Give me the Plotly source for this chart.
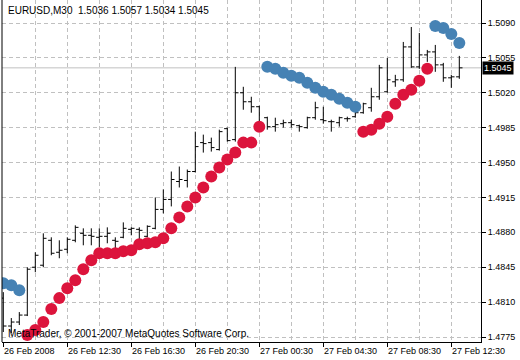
import plotly.graph_objects as go

# ---- data (EURUSD, M30, 26 Feb 2008 08:30 .. 27 Feb 2008 13:00) ----
bar_index = list(range(58))

opens = [1.4814, 1.4786, 1.4790, 1.4797, 1.4845, 1.4847, 1.4872, 1.4860, 1.4863, 1.4872,
         1.4879, 1.4877, 1.4875, 1.4876, 1.4872, 1.4875, 1.4883, 1.4883, 1.4876, 1.4884,
         1.4903, 1.4913, 1.4931, 1.4932, 1.4941, 1.4970, 1.4970, 1.4963, 1.4984, 1.4973,
         1.5020, 1.5011, 1.5006, 1.4995, 1.4986, 1.4989, 1.4990, 1.4987, 1.4985, 1.4995,
         1.4993, 1.4991, 1.4990, 1.4994, 1.4996, 1.5000, 1.5005, 1.5016, 1.5021, 1.5031,
         1.5033, 1.5066, 1.5046, 1.5058, 1.5061, 1.5048, 1.5035, 1.5036]
highs = [1.4820, 1.4794, 1.4800, 1.4845, 1.4860, 1.4879, 1.4875, 1.4872, 1.4875, 1.4887,
         1.4884, 1.4884, 1.4884, 1.4885, 1.4875, 1.4890, 1.4885, 1.4885, 1.4887, 1.4915,
         1.4923, 1.4941, 1.4946, 1.4943, 1.4981, 1.4978, 1.4975, 1.4983, 1.4985, 1.5046,
         1.5026, 1.5016, 1.5007, 1.4996, 1.4995, 1.4993, 1.4993, 1.4988, 1.4996, 1.5011,
         1.5006, 1.4993, 1.4996, 1.4996, 1.5003, 1.5010, 1.5025, 1.5048, 1.5055, 1.5038,
         1.5071, 1.5086, 1.5080, 1.5063, 1.5068, 1.5050, 1.5038, 1.5057]
lows = [1.4780, 1.4779, 1.4787, 1.4796, 1.4840, 1.4845, 1.4857, 1.4854, 1.4859, 1.4870,
        1.4867, 1.4867, 1.4865, 1.4869, 1.4864, 1.4874, 1.4877, 1.4872, 1.4875, 1.4883,
        1.4899, 1.4906, 1.4925, 1.4925, 1.4940, 1.4960, 1.4961, 1.4962, 1.4971, 1.4971,
        1.5003, 1.5000, 1.4983, 1.4983, 1.4981, 1.4985, 1.4985, 1.4981, 1.4984, 1.4993,
        1.4989, 1.4981, 1.4986, 1.4991, 1.4995, 1.4999, 1.5001, 1.5013, 1.5020, 1.5026,
        1.5031, 1.5045, 1.5044, 1.5051, 1.5041, 1.5031, 1.5025, 1.5034]
closes = [1.4786, 1.4790, 1.4797, 1.4843, 1.4857, 1.4874, 1.4859, 1.4862, 1.4873, 1.4885,
          1.4877, 1.4876, 1.4876, 1.4879, 1.4871, 1.4884, 1.4884, 1.4882, 1.4886, 1.4903,
          1.4913, 1.4933, 1.4933, 1.4941, 1.4966, 1.4969, 1.4965, 1.4981, 1.4972, 1.5020,
          1.5011, 1.5006, 1.4987, 1.4986, 1.4988, 1.4990, 1.4988, 1.4986, 1.4995, 1.5005,
          1.4992, 1.4991, 1.4995, 1.4994, 1.5000, 1.5009, 1.5016, 1.5045, 1.5033, 1.5033,
          1.5066, 1.5046, 1.5058, 1.5061, 1.5048, 1.5035, 1.5036, 1.5045]

N = None
support_dots = [N, N, N, 1.4777, 1.4782, 1.4790, 1.4803, 1.4814, 1.4824, 1.4832,
                1.4843, 1.4852, 1.4859, 1.4859, 1.4859, 1.4861, 1.4862, 1.4868, 1.4869, 1.4870,
                1.4874, 1.4884, 1.4895, 1.4906, 1.4915, 1.4925, 1.4936, 1.4945, 1.4953, 1.4960,
                1.4970, 1.4970, 1.4986, N, N, N, N, N, N, N,
                N, N, N, N, N, 1.4981, 1.4983, 1.4989, 1.4996, 1.5009,
                1.5018, 1.5023, 1.5032, 1.5044, N, N, N, N]
resistance_dots = [1.4829, 1.4827, 1.4822, N, N, N, N, N, N, N,
                   N, N, N, N, N, N, N, N, N, N,
                   N, N, N, N, N, N, N, N, N, N,
                   N, N, N, 1.5046, 1.5044, 1.5040, 1.5037, 1.5035, 1.5030, 1.5025,
                   1.5021, 1.5018, 1.5014, 1.5010, 1.5006, N, N, N, N, N,
                   N, N, N, N, 1.5087, 1.5085, 1.5079, 1.5070]

price_ticks = [1.4775, 1.4810, 1.4845, 1.4880, 1.4915, 1.4950, 1.4985, 1.5020, 1.5055, 1.5090]
time_tick_bars = [0, 8, 16, 24, 32, 40, 48, 56]
time_tick_labels = ["26 Feb 2008", "26 Feb 12:30", "26 Feb 16:30", "26 Feb 20:30",
                    "27 Feb 00:30", "27 Feb 04:30", "27 Feb 08:30", "27 Feb 12:30"]
grid_bars = list(range(4, 58, 4))

symbol = "EURUSD,M30"
copyright_text = "MetaTrader, \u00a9 2001-2007 MetaQuotes Software Corp."

# ---- figure ----
FONT = "Liberation Sans, Arial, sans-serif"
GRID = "#c0c0c0"
X_RANGE = [-0.1625, 59.7125]
Y_RANGE = [1.476998, 1.511307]

fig = go.Figure()
fig.add_trace(go.Ohlc(
    x=bar_index, open=opens, high=highs, low=lows, close=closes,
    increasing=dict(line=dict(color="black", width=1)),
    decreasing=dict(line=dict(color="black", width=1)),
    tickwidth=0.4, hoverinfo="skip", showlegend=False,
))
fig.add_trace(go.Scatter(
    x=bar_index, y=support_dots, mode="markers",
    marker=dict(size=12, color="#DC143C", line=dict(width=0)),
    hoverinfo="skip", showlegend=False,
))
fig.add_trace(go.Scatter(
    x=bar_index, y=resistance_dots, mode="markers", xaxis="x2",
    marker=dict(size=12, color="#4682B4", line=dict(width=0)),
    hoverinfo="skip", showlegend=False,
))

last_o, last_h, last_l, last_c = opens[-1], highs[-1], lows[-1], closes[-1]

annotations = [
    dict(xref="paper", yref="paper", x=0, y=1, xanchor="left", yanchor="top",
         xshift=4, yshift=-3, showarrow=False,
         text=f"{symbol}\u00a0 {last_o:.4f} {last_h:.4f} {last_l:.4f} {last_c:.4f}",
         font=dict(family=FONT, size=10, color="black")),
    dict(xref="paper", yref="paper", x=0, y=0, xanchor="left", yanchor="bottom",
         xshift=4, yshift=1, showarrow=False, text=copyright_text,
         font=dict(family=FONT, size=10, color="black")),
    dict(xref="paper", yref="y", x=1, y=last_c, xanchor="left", yanchor="middle",
         xshift=1, showarrow=False, text=f"{last_c:.4f}", bgcolor="black",
         borderpad=1, font=dict(family=FONT, size=9, color="white")),
]
for b, lab in zip(time_tick_bars, time_tick_labels):
    annotations.append(dict(xref="x", yref="paper", x=b, y=0, xanchor="left", yanchor="top",
                            xshift=-1, yshift=-2, showarrow=False, text=lab,
                            font=dict(family=FONT, size=9, color="black")))

fig.update_layout(
    width=520, height=360,
    margin=dict(l=2, r=39, t=0, b=18, pad=0),
    paper_bgcolor="white", plot_bgcolor="white",
    showlegend=False,
    xaxis=dict(range=X_RANGE, tickvals=grid_bars, showticklabels=False, ticks="",
               showgrid=True, gridcolor=GRID, gridwidth=1, griddash="4px,3px",
               zeroline=False, showline=True, linecolor="black", linewidth=1,
               rangeslider=dict(visible=False), fixedrange=True),
    xaxis2=dict(range=X_RANGE, overlaying="x", anchor="y", side="bottom",
                tickvals=time_tick_bars, showticklabels=False, ticks="outside",
                ticklen=4, tickcolor="black", tickwidth=1, showgrid=False,
                zeroline=False, showline=False, fixedrange=True),
    yaxis=dict(range=Y_RANGE, side="right", tickvals=price_ticks,
               ticktext=[f"{v:.4f}" for v in price_ticks], ticks="outside", ticklen=4,
               tickcolor="black", tickwidth=1,
               tickfont=dict(family=FONT, size=9, color="black"),
               showgrid=True, gridcolor=GRID, gridwidth=1, griddash="4px,3px",
               zeroline=False, showline=True, linecolor="black", linewidth=1,
               fixedrange=True),
    shapes=[
        dict(type="line", xref="paper", yref="y", x0=0, x1=1, y0=last_c, y1=last_c,
             line=dict(color=GRID, width=1), layer="below"),
        dict(type="line", xref="paper", yref="paper", x0=0, x1=0, y0=0, y1=1,
             line=dict(color="black", width=1)),
    ],
    annotations=annotations,
)

fig.write_html("out.html", config={"displayModeBar": False},
               post_script="document.body.style.margin='0';document.body.style.overflow='hidden';")
